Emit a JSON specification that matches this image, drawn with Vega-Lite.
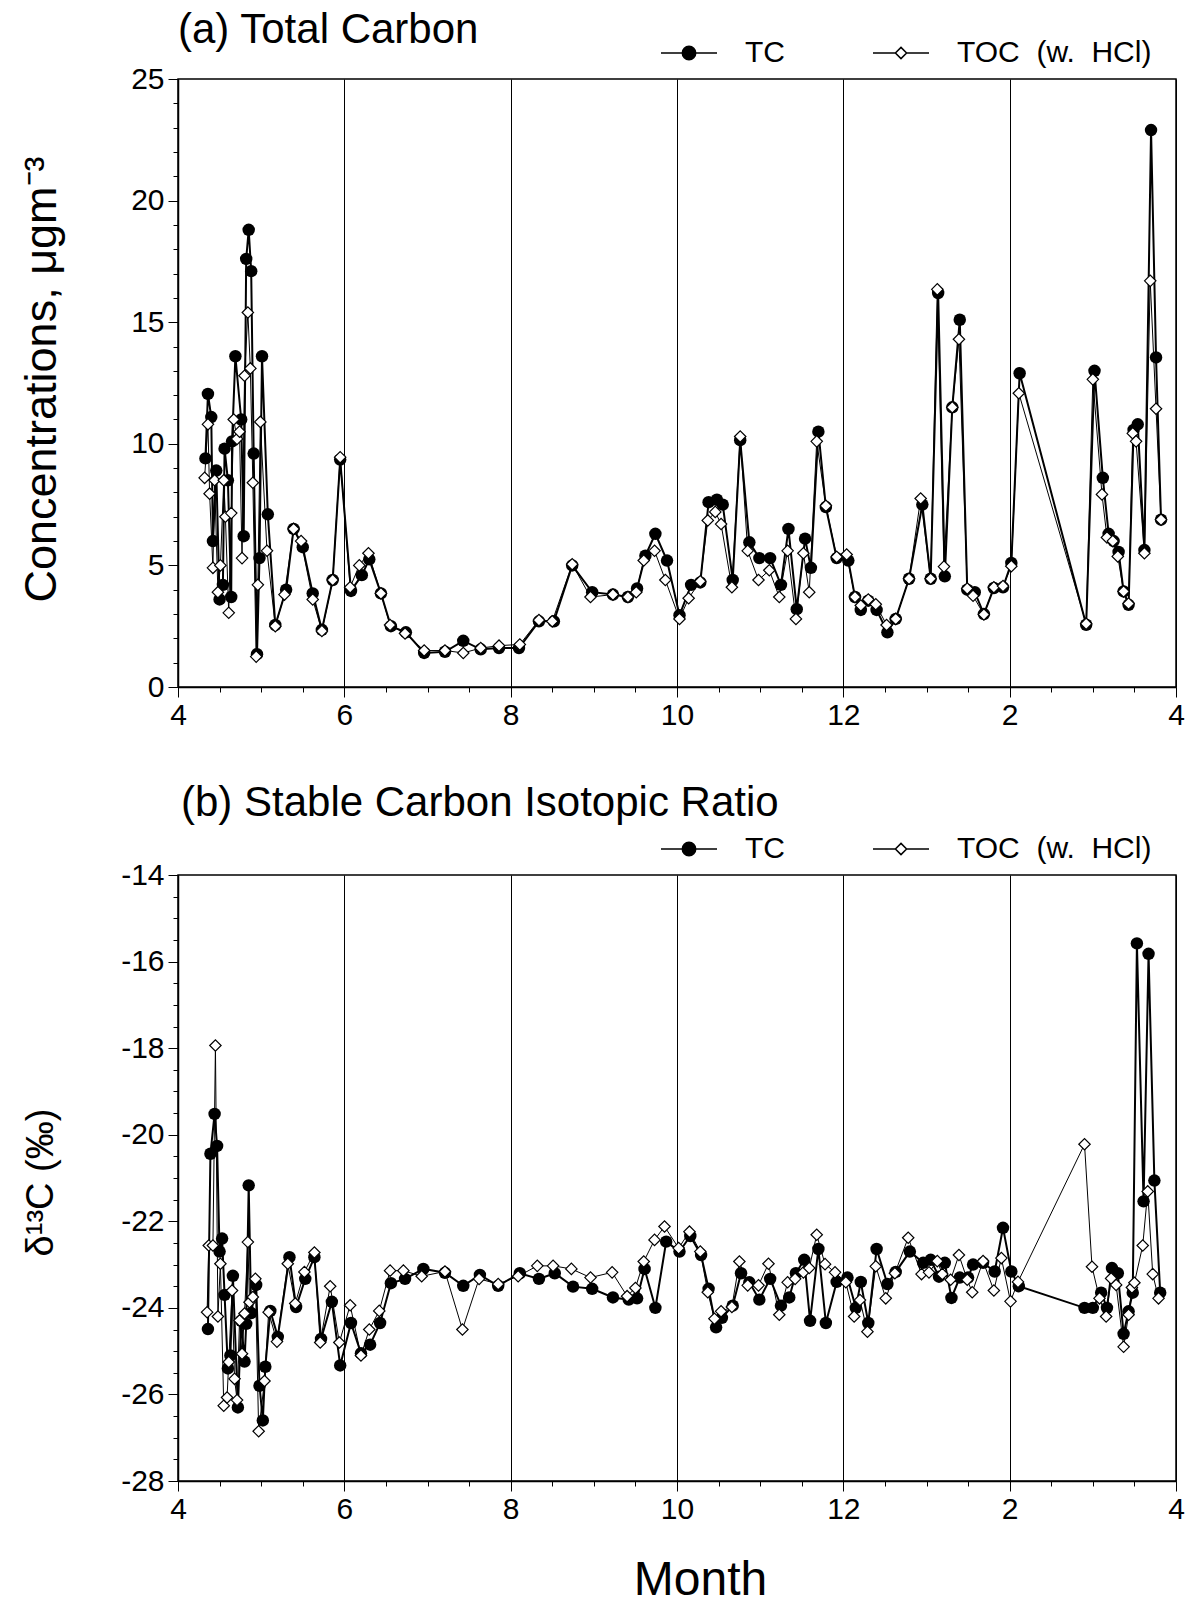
{
  "$schema": "https://vega.github.io/schema/vega-lite/v6.json",
  "background": "white",
  "padding": {"left": 18, "top": 8, "right": 10, "bottom": 0},
  "datasets": {
    "a": [
      {"m":4.33,"s":"TC","v":9.4},{"m":4.36,"s":"TC","v":12.05},{"m":4.40,"s":"TC","v":11.1},{"m":4.42,"s":"TC","v":6.0},{"m":4.46,"s":"TC","v":8.9},{"m":4.50,"s":"TC","v":3.6},{"m":4.54,"s":"TC","v":4.2},{"m":4.56,"s":"TC","v":9.8},{"m":4.60,"s":"TC","v":8.5},{"m":4.64,"s":"TC","v":3.7},{"m":4.65,"s":"TC","v":10.1},{"m":4.69,"s":"TC","v":13.6},{"m":4.76,"s":"TC","v":11.0},{"m":4.79,"s":"TC","v":6.2},{"m":4.82,"s":"TC","v":17.6},{"m":4.85,"s":"TC","v":18.8},{"m":4.88,"s":"TC","v":17.1},{"m":4.91,"s":"TC","v":9.6},{"m":4.95,"s":"TC","v":1.35},{"m":4.98,"s":"TC","v":5.3},{"m":5.01,"s":"TC","v":13.6},{"m":5.08,"s":"TC","v":7.1},{"m":5.17,"s":"TC","v":2.55},{"m":5.30,"s":"TC","v":4.0},{"m":5.39,"s":"TC","v":6.5},{"m":5.50,"s":"TC","v":5.75},{"m":5.62,"s":"TC","v":3.85},{"m":5.73,"s":"TC","v":2.35},{"m":5.86,"s":"TC","v":4.4},{"m":5.95,"s":"TC","v":9.35},{"m":6.08,"s":"TC","v":3.95},{"m":6.21,"s":"TC","v":4.6},{"m":6.30,"s":"TC","v":5.25},{"m":6.44,"s":"TC","v":3.85},{"m":6.56,"s":"TC","v":2.5},{"m":6.74,"s":"TC","v":2.25},{"m":6.96,"s":"TC","v":1.4},{"m":7.21,"s":"TC","v":1.45},{"m":7.43,"s":"TC","v":1.9},{"m":7.64,"s":"TC","v":1.55},{"m":7.86,"s":"TC","v":1.6},{"m":8.10,"s":"TC","v":1.6},{"m":8.34,"s":"TC","v":2.7},{"m":8.52,"s":"TC","v":2.7},{"m":8.74,"s":"TC","v":5.0},{"m":8.98,"s":"TC","v":3.9},{"m":9.23,"s":"TC","v":3.8},{"m":9.41,"s":"TC","v":3.7},{"m":9.52,"s":"TC","v":4.05},{"m":9.62,"s":"TC","v":5.4},{"m":9.74,"s":"TC","v":6.3},{"m":9.88,"s":"TC","v":5.2},{"m":10.03,"s":"TC","v":2.95},{"m":10.17,"s":"TC","v":4.2},{"m":10.28,"s":"TC","v":4.3},{"m":10.38,"s":"TC","v":7.6},{"m":10.48,"s":"TC","v":7.7},{"m":10.55,"s":"TC","v":7.5},{"m":10.67,"s":"TC","v":4.4},{"m":10.76,"s":"TC","v":10.15},{"m":10.87,"s":"TC","v":5.95},{"m":10.99,"s":"TC","v":5.3},{"m":11.12,"s":"TC","v":5.3},{"m":11.25,"s":"TC","v":4.2},{"m":11.34,"s":"TC","v":6.5},{"m":11.44,"s":"TC","v":3.2},{"m":11.54,"s":"TC","v":6.1},{"m":11.61,"s":"TC","v":4.9},{"m":11.70,"s":"TC","v":10.5},{"m":11.79,"s":"TC","v":7.4},{"m":11.92,"s":"TC","v":5.3},{"m":12.06,"s":"TC","v":5.2},{"m":12.14,"s":"TC","v":3.7},{"m":12.21,"s":"TC","v":3.17},{"m":12.30,"s":"TC","v":3.55},{"m":12.40,"s":"TC","v":3.17},{"m":12.53,"s":"TC","v":2.25},{"m":12.63,"s":"TC","v":2.8},{"m":12.79,"s":"TC","v":4.45},{"m":12.95,"s":"TC","v":7.5},{"m":13.05,"s":"TC","v":4.45},{"m":13.14,"s":"TC","v":16.2},{"m":13.22,"s":"TC","v":4.55},{"m":13.31,"s":"TC","v":11.5},{"m":13.40,"s":"TC","v":15.1},{"m":13.49,"s":"TC","v":4.0},{"m":13.58,"s":"TC","v":3.9},{"m":13.69,"s":"TC","v":3.0},{"m":13.81,"s":"TC","v":4.07},{"m":13.92,"s":"TC","v":4.1},{"m":14.02,"s":"TC","v":5.1},{"m":14.12,"s":"TC","v":12.9},{"m":14.92,"s":"TC","v":2.56},{"m":15.02,"s":"TC","v":13.0},{"m":15.12,"s":"TC","v":8.6},{"m":15.19,"s":"TC","v":6.3},{"m":15.25,"s":"TC","v":6.0},{"m":15.31,"s":"TC","v":5.55},{"m":15.37,"s":"TC","v":3.93},{"m":15.43,"s":"TC","v":3.38},{"m":15.49,"s":"TC","v":10.57},{"m":15.54,"s":"TC","v":10.8},{"m":15.62,"s":"TC","v":5.63},{"m":15.70,"s":"TC","v":22.9},{"m":15.76,"s":"TC","v":13.55},{"m":15.82,"s":"TC","v":6.88},
      {"m":4.32,"s":"TOC","v":8.6},{"m":4.36,"s":"TOC","v":10.8},{"m":4.38,"s":"TOC","v":7.95},{"m":4.42,"s":"TOC","v":4.9},{"m":4.44,"s":"TOC","v":8.5},{"m":4.48,"s":"TOC","v":3.9},{"m":4.51,"s":"TOC","v":5.0},{"m":4.55,"s":"TOC","v":8.5},{"m":4.57,"s":"TOC","v":7.0},{"m":4.61,"s":"TOC","v":3.05},{"m":4.64,"s":"TOC","v":7.15},{"m":4.67,"s":"TOC","v":11.0},{"m":4.71,"s":"TOC","v":10.2},{"m":4.74,"s":"TOC","v":10.5},{"m":4.77,"s":"TOC","v":5.3},{"m":4.80,"s":"TOC","v":12.8},{"m":4.84,"s":"TOC","v":15.4},{"m":4.87,"s":"TOC","v":13.1},{"m":4.90,"s":"TOC","v":8.4},{"m":4.94,"s":"TOC","v":1.25},{"m":4.96,"s":"TOC","v":4.2},{"m":4.99,"s":"TOC","v":10.9},{"m":5.07,"s":"TOC","v":5.6},{"m":5.17,"s":"TOC","v":2.5},{"m":5.28,"s":"TOC","v":3.8},{"m":5.39,"s":"TOC","v":6.5},{"m":5.48,"s":"TOC","v":6.0},{"m":5.62,"s":"TOC","v":3.6},{"m":5.73,"s":"TOC","v":2.3},{"m":5.86,"s":"TOC","v":4.4},{"m":5.95,"s":"TOC","v":9.45},{"m":6.07,"s":"TOC","v":4.1},{"m":6.18,"s":"TOC","v":5.0},{"m":6.29,"s":"TOC","v":5.5},{"m":6.44,"s":"TOC","v":3.85},{"m":6.55,"s":"TOC","v":2.55},{"m":6.73,"s":"TOC","v":2.2},{"m":6.96,"s":"TOC","v":1.5},{"m":7.21,"s":"TOC","v":1.5},{"m":7.43,"s":"TOC","v":1.4},{"m":7.64,"s":"TOC","v":1.6},{"m":7.86,"s":"TOC","v":1.7},{"m":8.11,"s":"TOC","v":1.75},{"m":8.34,"s":"TOC","v":2.75},{"m":8.50,"s":"TOC","v":2.7},{"m":8.74,"s":"TOC","v":5.05},{"m":8.96,"s":"TOC","v":3.7},{"m":9.23,"s":"TOC","v":3.8},{"m":9.41,"s":"TOC","v":3.7},{"m":9.51,"s":"TOC","v":3.9},{"m":9.60,"s":"TOC","v":5.2},{"m":9.73,"s":"TOC","v":5.6},{"m":9.86,"s":"TOC","v":4.4},{"m":10.03,"s":"TOC","v":2.8},{"m":10.14,"s":"TOC","v":3.65},{"m":10.28,"s":"TOC","v":4.35},{"m":10.37,"s":"TOC","v":6.85},{"m":10.46,"s":"TOC","v":7.2},{"m":10.53,"s":"TOC","v":6.7},{"m":10.66,"s":"TOC","v":4.1},{"m":10.76,"s":"TOC","v":10.3},{"m":10.85,"s":"TOC","v":5.6},{"m":10.98,"s":"TOC","v":4.4},{"m":11.11,"s":"TOC","v":4.8},{"m":11.23,"s":"TOC","v":3.7},{"m":11.33,"s":"TOC","v":5.6},{"m":11.43,"s":"TOC","v":2.8},{"m":11.52,"s":"TOC","v":5.5},{"m":11.59,"s":"TOC","v":3.9},{"m":11.68,"s":"TOC","v":10.1},{"m":11.79,"s":"TOC","v":7.45},{"m":11.92,"s":"TOC","v":5.35},{"m":12.04,"s":"TOC","v":5.45},{"m":12.14,"s":"TOC","v":3.7},{"m":12.21,"s":"TOC","v":3.35},{"m":12.30,"s":"TOC","v":3.6},{"m":12.39,"s":"TOC","v":3.4},{"m":12.52,"s":"TOC","v":2.55},{"m":12.63,"s":"TOC","v":2.8},{"m":12.79,"s":"TOC","v":4.45},{"m":12.93,"s":"TOC","v":7.75},{"m":13.05,"s":"TOC","v":4.45},{"m":13.13,"s":"TOC","v":16.35},{"m":13.21,"s":"TOC","v":4.95},{"m":13.31,"s":"TOC","v":11.5},{"m":13.39,"s":"TOC","v":14.3},{"m":13.49,"s":"TOC","v":4.05},{"m":13.56,"s":"TOC","v":3.75},{"m":13.69,"s":"TOC","v":2.98},{"m":13.81,"s":"TOC","v":4.1},{"m":13.92,"s":"TOC","v":4.15},{"m":14.02,"s":"TOC","v":4.97},{"m":14.11,"s":"TOC","v":12.08},{"m":14.92,"s":"TOC","v":2.6},{"m":15.00,"s":"TOC","v":12.65},{"m":15.11,"s":"TOC","v":7.92},{"m":15.17,"s":"TOC","v":6.15},{"m":15.24,"s":"TOC","v":6.0},{"m":15.30,"s":"TOC","v":5.37},{"m":15.37,"s":"TOC","v":3.93},{"m":15.43,"s":"TOC","v":3.43},{"m":15.48,"s":"TOC","v":10.43},{"m":15.52,"s":"TOC","v":10.1},{"m":15.62,"s":"TOC","v":5.5},{"m":15.69,"s":"TOC","v":16.7},{"m":15.76,"s":"TOC","v":11.44},{"m":15.82,"s":"TOC","v":6.88}
    ],
    "b": [
      {"m":4.36,"s":"TC","v":-24.49},{"m":4.39,"s":"TC","v":-20.44},{"m":4.44,"s":"TC","v":-19.52},{"m":4.47,"s":"TC","v":-20.26},{"m":4.50,"s":"TC","v":-22.7},{"m":4.53,"s":"TC","v":-22.4},{"m":4.56,"s":"TC","v":-23.7},{"m":4.60,"s":"TC","v":-25.4},{"m":4.63,"s":"TC","v":-25.1},{"m":4.66,"s":"TC","v":-23.26},{"m":4.72,"s":"TC","v":-26.3},{"m":4.76,"s":"TC","v":-24.3},{"m":4.80,"s":"TC","v":-25.24},{"m":4.82,"s":"TC","v":-24.37},{"m":4.85,"s":"TC","v":-21.17},{"m":4.88,"s":"TC","v":-24.12},{"m":4.94,"s":"TC","v":-23.47},{"m":4.98,"s":"TC","v":-25.8},{"m":5.02,"s":"TC","v":-26.6},{"m":5.05,"s":"TC","v":-25.36},{"m":5.11,"s":"TC","v":-24.07},{"m":5.20,"s":"TC","v":-24.67},{"m":5.34,"s":"TC","v":-22.83},{"m":5.42,"s":"TC","v":-23.98},{"m":5.53,"s":"TC","v":-23.33},{"m":5.64,"s":"TC","v":-22.83},{"m":5.72,"s":"TC","v":-24.72},{"m":5.85,"s":"TC","v":-23.86},{"m":5.95,"s":"TC","v":-25.33},{"m":6.08,"s":"TC","v":-24.35},{"m":6.20,"s":"TC","v":-25.05},{"m":6.31,"s":"TC","v":-24.85},{"m":6.43,"s":"TC","v":-24.35},{"m":6.56,"s":"TC","v":-23.43},{"m":6.73,"s":"TC","v":-23.33},{"m":6.95,"s":"TC","v":-23.1},{"m":7.21,"s":"TC","v":-23.19},{"m":7.43,"s":"TC","v":-23.49},{"m":7.63,"s":"TC","v":-23.24},{"m":7.85,"s":"TC","v":-23.49},{"m":8.11,"s":"TC","v":-23.2},{"m":8.34,"s":"TC","v":-23.33},{"m":8.53,"s":"TC","v":-23.2},{"m":8.75,"s":"TC","v":-23.51},{"m":8.98,"s":"TC","v":-23.56},{"m":9.23,"s":"TC","v":-23.76},{"m":9.42,"s":"TC","v":-23.81},{"m":9.52,"s":"TC","v":-23.78},{"m":9.61,"s":"TC","v":-23.1},{"m":9.74,"s":"TC","v":-24.0},{"m":9.87,"s":"TC","v":-22.47},{"m":10.03,"s":"TC","v":-22.7},{"m":10.16,"s":"TC","v":-22.34},{"m":10.29,"s":"TC","v":-22.78},{"m":10.38,"s":"TC","v":-23.56},{"m":10.47,"s":"TC","v":-24.45},{"m":10.54,"s":"TC","v":-24.23},{"m":10.67,"s":"TC","v":-23.95},{"m":10.77,"s":"TC","v":-23.2},{"m":10.87,"s":"TC","v":-23.41},{"m":10.99,"s":"TC","v":-23.81},{"m":11.12,"s":"TC","v":-23.33},{"m":11.25,"s":"TC","v":-23.95},{"m":11.35,"s":"TC","v":-23.76},{"m":11.43,"s":"TC","v":-23.2},{"m":11.53,"s":"TC","v":-22.89},{"m":11.60,"s":"TC","v":-24.3},{"m":11.70,"s":"TC","v":-22.64},{"m":11.79,"s":"TC","v":-24.35},{"m":11.92,"s":"TC","v":-23.4},{"m":12.05,"s":"TC","v":-23.3},{"m":12.15,"s":"TC","v":-24.0},{"m":12.21,"s":"TC","v":-23.4},{"m":12.30,"s":"TC","v":-24.35},{"m":12.40,"s":"TC","v":-22.64},{"m":12.53,"s":"TC","v":-23.45},{"m":12.63,"s":"TC","v":-23.17},{"m":12.80,"s":"TC","v":-22.7},{"m":12.96,"s":"TC","v":-22.96},{"m":13.05,"s":"TC","v":-22.89},{"m":13.15,"s":"TC","v":-23.28},{"m":13.22,"s":"TC","v":-22.96},{"m":13.30,"s":"TC","v":-23.77},{"m":13.40,"s":"TC","v":-23.3},{"m":13.50,"s":"TC","v":-23.3},{"m":13.56,"s":"TC","v":-23.0},{"m":13.68,"s":"TC","v":-22.96},{"m":13.82,"s":"TC","v":-23.16},{"m":13.92,"s":"TC","v":-22.15},{"m":14.02,"s":"TC","v":-23.16},{"m":14.11,"s":"TC","v":-23.5},{"m":14.90,"s":"TC","v":-24.0},{"m":15.00,"s":"TC","v":-24.0},{"m":15.10,"s":"TC","v":-23.65},{"m":15.17,"s":"TC","v":-24.0},{"m":15.23,"s":"TC","v":-23.08},{"m":15.30,"s":"TC","v":-23.2},{"m":15.37,"s":"TC","v":-24.6},{"m":15.43,"s":"TC","v":-24.08},{"m":15.48,"s":"TC","v":-23.65},{"m":15.53,"s":"TC","v":-15.58},{"m":15.61,"s":"TC","v":-21.54},{"m":15.67,"s":"TC","v":-15.82},{"m":15.74,"s":"TC","v":-21.06},{"m":15.81,"s":"TC","v":-23.65},
      {"m":4.35,"s":"TOC","v":-24.1},{"m":4.37,"s":"TOC","v":-22.56},{"m":4.42,"s":"TOC","v":-22.56},{"m":4.45,"s":"TOC","v":-17.94},{"m":4.48,"s":"TOC","v":-24.2},{"m":4.51,"s":"TOC","v":-22.98},{"m":4.55,"s":"TOC","v":-26.26},{"m":4.59,"s":"TOC","v":-26.07},{"m":4.61,"s":"TOC","v":-25.25},{"m":4.65,"s":"TOC","v":-23.6},{"m":4.68,"s":"TOC","v":-25.64},{"m":4.71,"s":"TOC","v":-26.13},{"m":4.74,"s":"TOC","v":-24.29},{"m":4.77,"s":"TOC","v":-25.06},{"m":4.80,"s":"TOC","v":-24.13},{"m":4.84,"s":"TOC","v":-22.48},{"m":4.86,"s":"TOC","v":-23.87},{"m":4.90,"s":"TOC","v":-23.75},{"m":4.93,"s":"TOC","v":-23.33},{"m":4.97,"s":"TOC","v":-26.85},{"m":5.04,"s":"TOC","v":-25.69},{"m":5.09,"s":"TOC","v":-24.1},{"m":5.19,"s":"TOC","v":-24.78},{"m":5.32,"s":"TOC","v":-22.98},{"m":5.41,"s":"TOC","v":-23.9},{"m":5.52,"s":"TOC","v":-23.17},{"m":5.64,"s":"TOC","v":-22.72},{"m":5.71,"s":"TOC","v":-24.8},{"m":5.83,"s":"TOC","v":-23.5},{"m":5.94,"s":"TOC","v":-24.8},{"m":6.07,"s":"TOC","v":-23.94},{"m":6.20,"s":"TOC","v":-25.1},{"m":6.30,"s":"TOC","v":-24.5},{"m":6.42,"s":"TOC","v":-24.07},{"m":6.55,"s":"TOC","v":-23.14},{"m":6.71,"s":"TOC","v":-23.14},{"m":6.93,"s":"TOC","v":-23.27},{"m":7.21,"s":"TOC","v":-23.16},{"m":7.42,"s":"TOC","v":-24.5},{"m":7.62,"s":"TOC","v":-23.33},{"m":7.85,"s":"TOC","v":-23.45},{"m":8.09,"s":"TOC","v":-23.27},{"m":8.32,"s":"TOC","v":-23.03},{"m":8.51,"s":"TOC","v":-23.03},{"m":8.73,"s":"TOC","v":-23.1},{"m":8.96,"s":"TOC","v":-23.3},{"m":9.22,"s":"TOC","v":-23.18},{"m":9.40,"s":"TOC","v":-23.73},{"m":9.50,"s":"TOC","v":-23.54},{"m":9.60,"s":"TOC","v":-22.93},{"m":9.73,"s":"TOC","v":-22.43},{"m":9.85,"s":"TOC","v":-22.12},{"m":10.02,"s":"TOC","v":-22.62},{"m":10.15,"s":"TOC","v":-22.24},{"m":10.28,"s":"TOC","v":-22.7},{"m":10.37,"s":"TOC","v":-23.64},{"m":10.45,"s":"TOC","v":-24.25},{"m":10.53,"s":"TOC","v":-24.08},{"m":10.66,"s":"TOC","v":-23.98},{"m":10.75,"s":"TOC","v":-22.93},{"m":10.85,"s":"TOC","v":-23.48},{"m":10.98,"s":"TOC","v":-23.48},{"m":11.10,"s":"TOC","v":-22.98},{"m":11.23,"s":"TOC","v":-24.16},{"m":11.33,"s":"TOC","v":-23.41},{"m":11.42,"s":"TOC","v":-23.33},{"m":11.52,"s":"TOC","v":-23.18},{"m":11.59,"s":"TOC","v":-23.08},{"m":11.68,"s":"TOC","v":-22.31},{"m":11.78,"s":"TOC","v":-22.99},{"m":11.90,"s":"TOC","v":-23.18},{"m":12.03,"s":"TOC","v":-23.41},{"m":12.13,"s":"TOC","v":-24.2},{"m":12.20,"s":"TOC","v":-23.82},{"m":12.29,"s":"TOC","v":-24.55},{"m":12.39,"s":"TOC","v":-23.04},{"m":12.51,"s":"TOC","v":-23.78},{"m":12.62,"s":"TOC","v":-23.2},{"m":12.78,"s":"TOC","v":-22.38},{"m":12.94,"s":"TOC","v":-23.22},{"m":13.03,"s":"TOC","v":-23.18},{"m":13.13,"s":"TOC","v":-22.92},{"m":13.19,"s":"TOC","v":-23.22},{"m":13.29,"s":"TOC","v":-23.35},{"m":13.39,"s":"TOC","v":-22.78},{"m":13.49,"s":"TOC","v":-23.35},{"m":13.55,"s":"TOC","v":-23.64},{"m":13.68,"s":"TOC","v":-22.92},{"m":13.81,"s":"TOC","v":-23.6},{"m":13.90,"s":"TOC","v":-22.85},{"m":14.01,"s":"TOC","v":-23.85},{"m":14.10,"s":"TOC","v":-23.4},{"m":14.90,"s":"TOC","v":-20.22},{"m":14.99,"s":"TOC","v":-23.05},{"m":15.08,"s":"TOC","v":-23.78},{"m":15.16,"s":"TOC","v":-24.2},{"m":15.22,"s":"TOC","v":-23.32},{"m":15.28,"s":"TOC","v":-23.47},{"m":15.37,"s":"TOC","v":-24.9},{"m":15.43,"s":"TOC","v":-24.16},{"m":15.47,"s":"TOC","v":-23.53},{"m":15.50,"s":"TOC","v":-23.42},{"m":15.60,"s":"TOC","v":-22.56},{"m":15.66,"s":"TOC","v":-21.31},{"m":15.72,"s":"TOC","v":-23.22},{"m":15.79,"s":"TOC","v":-23.78}
    ]
  },
  "vconcat": [
    {
      "width": 998,
      "height": 608,
      "title": {"text": "(a) Total Carbon", "anchor": "start", "frame": "group", "fontSize": 42, "font": "Liberation Sans, Arial, sans-serif", "fontWeight": "normal", "color": "black", "offset": -28},
      "data": {"name": "a"},
      "encoding": {
        "x": {"field": "m", "type": "quantitative", "scale": {"domain": [4, 16], "nice": false, "zero": false},
          "axis": {"values": [4,4.5,5,5.5,6,6.5,7,7.5,8,8.5,9,9.5,10,10.5,11,11.5,12,12.5,13,13.5,14,14.5,15,15.5,16],
            "labelExpr": "datum.value % 2 == 0 ? (datum.value > 12 ? '' + (datum.value - 12) : '' + datum.value) : ''",
            "tickSize": {"condition": {"test": "datum.value % 2 == 0", "value": 10}, "value": 5},
            "grid": true, "gridColor": "black", "gridWidth": 1,
            "gridOpacity": {"condition": {"test": "datum.value % 2 == 0", "value": 1}, "value": 0},
            "labelFontSize": 30, "labelPadding": 3, "labelOverlap": false, "labelFlush": false, "labelBound": false,
            "title": null}},
        "y": {"field": "v", "type": "quantitative", "scale": {"domain": [0, 25], "nice": false, "zero": false},
          "axis": {"values": [0,1,2,3,4,5,6,7,8,9,10,11,12,13,14,15,16,17,18,19,20,21,22,23,24,25],
            "labelExpr": "datum.value % 5 == 0 ? '' + datum.value : ''",
            "tickSize": {"condition": {"test": "datum.value % 5 == 0", "value": 10}, "value": 5},
            "grid": false, "labelFontSize": 30, "labelPadding": 4, "labelOverlap": false, "labelFlush": false, "labelBound": false,
            "title": "Concentrations, μgm⁻³", "titleFontSize": 45, "titleX": -137, "titleY": 300, "titleBaseline": "middle"}}
      },
      "layer": [
        {"transform": [{"filter": "datum.s == 'TC'"}], "mark": {"type": "line", "color": "black", "strokeWidth": 2}},
        {"transform": [{"filter": "datum.s == 'TC'"}], "mark": {"type": "point", "shape": "circle", "filled": true, "color": "black", "size": 155, "opacity": 1}},
        {"transform": [{"filter": "datum.s == 'TOC'"}], "mark": {"type": "line", "color": "black", "strokeWidth": 1}},
        {"transform": [{"filter": "datum.s == 'TOC'"}], "mark": {"type": "point", "shape": "diamond", "filled": true, "fill": "white", "stroke": "black", "strokeWidth": 1.2, "size": 130, "opacity": 1}},
        {"transform": [{"filter": "false"}],
          "mark": {"type": "point", "filled": true, "strokeWidth": 1.5, "opacity": 1},
          "encoding": {
            "shape": {"field": "s", "type": "nominal",
              "scale": {"domain": ["TC", "TOC"], "range": ["M-1,0H1M-0.24,0A0.24,0.24,0,1,0,0.24,0A0.24,0.24,0,1,0,-0.24,0Z", "M-1,0H-0.2M0.2,0H1M0,-0.2L0.2,0L0,0.2L-0.2,0Z"]},
              "legend": {"orient": "none", "legendX": 482, "legendY": -55, "direction": "horizontal", "title": null, "padding": 0,
                "labelFontSize": 30, "labelFont": "Liberation Sans, Arial, sans-serif", "labelColor": "black", "labelOffset": 27, "columnPadding": 85, "labelLimit": 500,
                "symbolSize": 3136, "symbolStrokeWidth": 1.5, "symbolOpacity": 1,
                "labelExpr": "datum.label == 'TOC' ? 'TOC\u00a0 (w.\u00a0 HCl)' : datum.label"}},
            "fill": {"field": "s", "type": "nominal",
              "scale": {"domain": ["TC", "TOC"], "range": ["black", "white"]},
              "legend": {"orient": "none", "legendX": 482, "legendY": -55, "direction": "horizontal", "title": null, "padding": 0,
                "labelFontSize": 30, "labelFont": "Liberation Sans, Arial, sans-serif", "labelColor": "black", "labelOffset": 27, "columnPadding": 85, "labelLimit": 500,
                "symbolSize": 3136, "symbolStrokeWidth": 1.5, "symbolOpacity": 1,
                "labelExpr": "datum.label == 'TOC' ? 'TOC\u00a0 (w.\u00a0 HCl)' : datum.label"}},
            "stroke": {"field": "s", "type": "nominal",
              "scale": {"domain": ["TC", "TOC"], "range": ["black", "black"]},
              "legend": {"orient": "none", "legendX": 482, "legendY": -55, "direction": "horizontal", "title": null, "padding": 0,
                "labelFontSize": 30, "labelFont": "Liberation Sans, Arial, sans-serif", "labelColor": "black", "labelOffset": 27, "columnPadding": 85, "labelLimit": 500,
                "symbolSize": 3136, "symbolStrokeWidth": 1.5, "symbolOpacity": 1,
                "labelExpr": "datum.label == 'TOC' ? 'TOC\u00a0 (w.\u00a0 HCl)' : datum.label"}}
          }}
      ]
    },
    {
      "width": 998,
      "height": 606,
      "title": {"text": "(b) Stable Carbon Isotopic Ratio", "anchor": "start", "frame": "group", "fontSize": 42, "font": "Liberation Sans, Arial, sans-serif", "fontWeight": "normal", "color": "black", "offset": -5, "dx": 3},
      "data": {"name": "b"},
      "encoding": {
        "x": {"field": "m", "type": "quantitative", "scale": {"domain": [4, 16], "nice": false, "zero": false},
          "axis": {"values": [4,4.5,5,5.5,6,6.5,7,7.5,8,8.5,9,9.5,10,10.5,11,11.5,12,12.5,13,13.5,14,14.5,15,15.5,16],
            "labelExpr": "datum.value % 2 == 0 ? (datum.value > 12 ? '' + (datum.value - 12) : '' + datum.value) : ''",
            "tickSize": {"condition": {"test": "datum.value % 2 == 0", "value": 10}, "value": 5},
            "grid": true, "gridColor": "black", "gridWidth": 1,
            "gridOpacity": {"condition": {"test": "datum.value % 2 == 0", "value": 1}, "value": 0},
            "labelFontSize": 30, "labelPadding": 3, "labelOverlap": false, "labelFlush": false, "labelBound": false,
            "title": "Month", "titleFontSize": 48, "titleX": 522, "titleY": 113, "titleBaseline": "alphabetic"}},
        "y": {"field": "v", "type": "quantitative", "scale": {"domain": [-28, -14], "nice": false, "zero": false},
          "axis": {"values": [-28,-27.5,-27,-26.5,-26,-25.5,-25,-24.5,-24,-23.5,-23,-22.5,-22,-21.5,-21,-20.5,-20,-19.5,-19,-18.5,-18,-17.5,-17,-16.5,-16,-15.5,-15,-14.5,-14],
            "labelExpr": "datum.value % 2 == 0 ? '' + datum.value : ''",
            "tickSize": {"condition": {"test": "datum.value % 2 == 0", "value": 10}, "value": 5},
            "grid": false, "labelFontSize": 30, "labelPadding": 4, "labelOverlap": false, "labelFlush": false, "labelBound": false,
            "title": "δ¹³C (‰)", "titleFontSize": 38, "titleX": -137, "titleY": 307, "titleBaseline": "middle"}}
      },
      "layer": [
        {"transform": [{"filter": "datum.s == 'TC'"}], "mark": {"type": "line", "color": "black", "strokeWidth": 2}},
        {"transform": [{"filter": "datum.s == 'TC'"}], "mark": {"type": "point", "shape": "circle", "filled": true, "color": "black", "size": 155, "opacity": 1}},
        {"transform": [{"filter": "datum.s == 'TOC'"}], "mark": {"type": "line", "color": "black", "strokeWidth": 1}},
        {"transform": [{"filter": "datum.s == 'TOC'"}], "mark": {"type": "point", "shape": "diamond", "filled": true, "fill": "white", "stroke": "black", "strokeWidth": 1.2, "size": 130, "opacity": 1}},
        {"transform": [{"filter": "false"}],
          "mark": {"type": "point", "filled": true, "strokeWidth": 1.5, "opacity": 1},
          "encoding": {
            "shape": {"field": "s", "type": "nominal",
              "scale": {"domain": ["TC", "TOC"], "range": ["M-1,0H1M-0.24,0A0.24,0.24,0,1,0,0.24,0A0.24,0.24,0,1,0,-0.24,0Z", "M-1,0H-0.2M0.2,0H1M0,-0.2L0.2,0L0,0.2L-0.2,0Z"]},
              "legend": {"orient": "none", "legendX": 482, "legendY": -55, "direction": "horizontal", "title": null, "padding": 0,
                "labelFontSize": 30, "labelFont": "Liberation Sans, Arial, sans-serif", "labelColor": "black", "labelOffset": 27, "columnPadding": 85, "labelLimit": 500,
                "symbolSize": 3136, "symbolStrokeWidth": 1.5, "symbolOpacity": 1,
                "labelExpr": "datum.label == 'TOC' ? 'TOC\u00a0 (w.\u00a0 HCl)' : datum.label"}},
            "fill": {"field": "s", "type": "nominal",
              "scale": {"domain": ["TC", "TOC"], "range": ["black", "white"]},
              "legend": {"orient": "none", "legendX": 482, "legendY": -55, "direction": "horizontal", "title": null, "padding": 0,
                "labelFontSize": 30, "labelFont": "Liberation Sans, Arial, sans-serif", "labelColor": "black", "labelOffset": 27, "columnPadding": 85, "labelLimit": 500,
                "symbolSize": 3136, "symbolStrokeWidth": 1.5, "symbolOpacity": 1,
                "labelExpr": "datum.label == 'TOC' ? 'TOC\u00a0 (w.\u00a0 HCl)' : datum.label"}},
            "stroke": {"field": "s", "type": "nominal",
              "scale": {"domain": ["TC", "TOC"], "range": ["black", "black"]},
              "legend": {"orient": "none", "legendX": 482, "legendY": -55, "direction": "horizontal", "title": null, "padding": 0,
                "labelFontSize": 30, "labelFont": "Liberation Sans, Arial, sans-serif", "labelColor": "black", "labelOffset": 27, "columnPadding": 85, "labelLimit": 500,
                "symbolSize": 3136, "symbolStrokeWidth": 1.5, "symbolOpacity": 1,
                "labelExpr": "datum.label == 'TOC' ? 'TOC\u00a0 (w.\u00a0 HCl)' : datum.label"}}
          }}
      ]
    }
  ],
  "spacing": 50,
  "resolve": {"scale": {"x": "independent", "y": "independent", "shape": "independent", "fill": "independent", "stroke": "independent"}, "legend": {"shape": "independent", "fill": "independent", "stroke": "independent"}},
  "config": {
    "font": "Liberation Sans, Arial, sans-serif",
    "view": {"stroke": "black", "strokeWidth": 1.5},
    "axis": {"domainColor": "black", "domainWidth": 1.5, "tickColor": "black", "tickWidth": 1, "labelColor": "black", "titleColor": "black", "labelFont": "Liberation Sans, Arial, sans-serif", "titleFont": "Liberation Sans, Arial, sans-serif", "titleFontWeight": "normal"}
  }
}
